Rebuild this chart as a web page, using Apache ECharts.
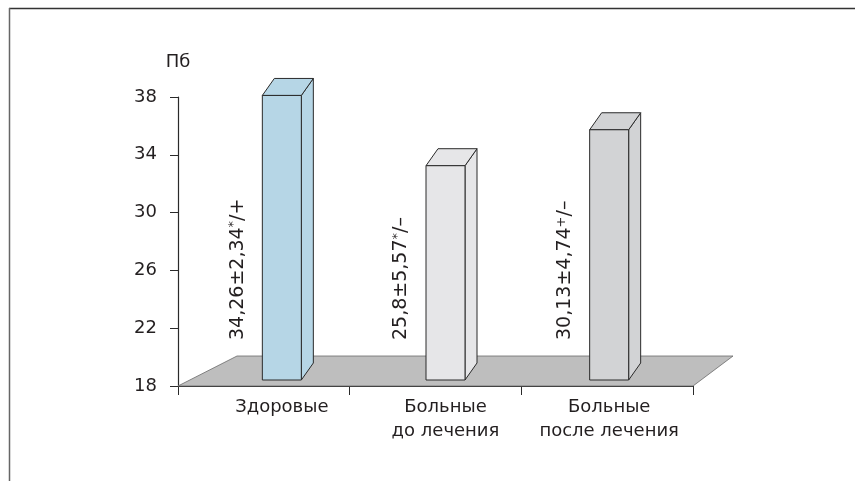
<!DOCTYPE html>
<html>
<head>
<meta charset="utf-8">
<script src="https://cdn.jsdelivr.net/npm/echarts@6/dist/echarts.min.js"></script>
<style>
  html, body { margin: 0; padding: 0; background: #fff; }
  #chart { width: 855px; height: 481px; }
</style>
</head>
<body>
<div id="chart"></div>
<script>
// Group names (category axis)
const categories = ['Здоровые', 'Больные\nдо лечения', 'Больные\nпосле лечения'];
// Mean values, standard deviations and significance marks per group
const means = [34.26, 25.8, 30.13];
const sds = [2.34, 5.57, 4.74];
const marks = ['*', '*', '+'];
const suffixes = ['/+', '/–', '/–'];
// Visible value scale
const yTicks = [18, 22, 26, 30, 34, 38];
const yName = 'Пб';
// Bar colours
const barColors = ['#b6d6e6', '#e6e6e8', '#d2d3d5'];

const FONT = 'DejaVu Sans';
const TXT = '#231f20';
const fmt = v => String(v).replace('.', ',');

const chart = echarts.init(document.getElementById('chart'), null, { renderer: 'canvas' });

const DX = 12, DY = -17, BW = 39;

function renderBar(params, api) {
  const i = api.value(0);
  const v = api.value(1);
  const base = api.coord([i, 0]);
  const top = api.coord([i, v]);
  const cx = base[0];
  const x0 = cx - BW / 2, x1 = cx + BW / 2;
  const fill = barColors[i];
  const stroke = { stroke: '#2a2a2a', lineWidth: 1, fill: fill, lineJoin: 'round' };
  const label = '{n|' + fmt(means[i]) + '±' + fmt(sds[i]) + '}{s|' + marks[i] + '}{n|' + suffixes[i] + '}';
  return {
    type: 'group',
    children: [
      { type: 'polygon', shape: { points: [[x1, top[1]], [x1 + DX, top[1] + DY], [x1 + DX, base[1] + DY], [x1, base[1]]] }, style: stroke },
      { type: 'polygon', shape: { points: [[x0, top[1]], [x0 + DX, top[1] + DY], [x1 + DX, top[1] + DY], [x1, top[1]]] }, style: stroke },
      { type: 'rect', shape: { x: x0, y: top[1], width: BW, height: base[1] - top[1] }, style: stroke },
      {
        type: 'text',
        x: cx - 44, y: base[1] - 40,
        rotation: Math.PI / 2,
        style: {
          text: label,
          align: 'left', verticalAlign: 'middle',
          fill: TXT, font: '19px ' + FONT,
          rich: {
            n: { fontSize: 19, fontFamily: FONT, fill: TXT, lineHeight: 21 },
            s: { fontSize: 13, fontFamily: FONT, fill: TXT, verticalAlign: 'top', lineHeight: 21 }
          }
        }
      }
    ]
  };
}

function renderFloor(params, api) {
  const p = api.coord([0, yTicks[0]]);
  const band = api.size([1, 0])[0];
  const l = p[0] - band / 2;
  const r = l + band * categories.length;
  const y = p[1];
  return {
    type: 'polygon',
    shape: { points: [[l, y], [l + 59, y - 30], [r + 40, y - 30], [r, y]] },
    style: { fill: '#bebebe', stroke: '#6a6a6a', lineWidth: 0.8 }
  };
}

chart.setOption({
  animation: false,
  backgroundColor: '#ffffff',
  grid: [
    { left: 178, right: 162, top: 97, bottom: 95 },
    { left: 200, right: 164, top: 81, bottom: 101 }
  ],
  xAxis: [
    {
      gridIndex: 0, type: 'category', data: categories,
      axisLine: { lineStyle: { color: '#2a2a2a', width: 1.2 } },
      axisTick: { show: true, length: 9, lineStyle: { color: '#2a2a2a' } },
      axisLabel: { show: false }
    },
    {
      gridIndex: 1, type: 'category', data: categories,
      axisLine: { show: false }, axisTick: { show: false },
      axisLabel: { interval: 0, margin: 15, color: TXT, fontFamily: FONT, fontSize: 18, lineHeight: 24 }
    }
  ],
  yAxis: [
    {
      gridIndex: 0, type: 'value', min: yTicks[0], max: yTicks[yTicks.length - 1], interval: 4,
      name: yName, nameLocation: 'end', nameGap: 26,
      nameTextStyle: { color: TXT, fontFamily: FONT, fontSize: 18 },
      axisLine: { show: true, lineStyle: { color: '#2a2a2a', width: 1.2 } },
      axisTick: { show: true, length: 8, lineStyle: { color: '#2a2a2a' } },
      axisLabel: { margin: 21, color: TXT, fontFamily: FONT, fontSize: 18 },
      splitLine: { show: false }
    },
    {
      gridIndex: 1, type: 'value', min: 0, max: 36, show: false
    }
  ],
  series: [
    {
      type: 'custom', xAxisIndex: 0, yAxisIndex: 0, z: 1,
      data: [[0, yTicks[0]]], renderItem: renderFloor, silent: true
    },
    {
      type: 'custom', xAxisIndex: 1, yAxisIndex: 1, z: 3,
      data: means.map((v, i) => [i, v]), renderItem: renderBar
    }
  ],
  graphic: [
    { type: 'line', shape: { x1: 9, y1: 8.5, x2: 855, y2: 8.5 }, style: { stroke: '#333', lineWidth: 1.5 } },
    { type: 'line', shape: { x1: 9.5, y1: 8, x2: 9.5, y2: 481 }, style: { stroke: '#666', lineWidth: 1.5 } }
  ]
});
</script>
</body>
</html>
